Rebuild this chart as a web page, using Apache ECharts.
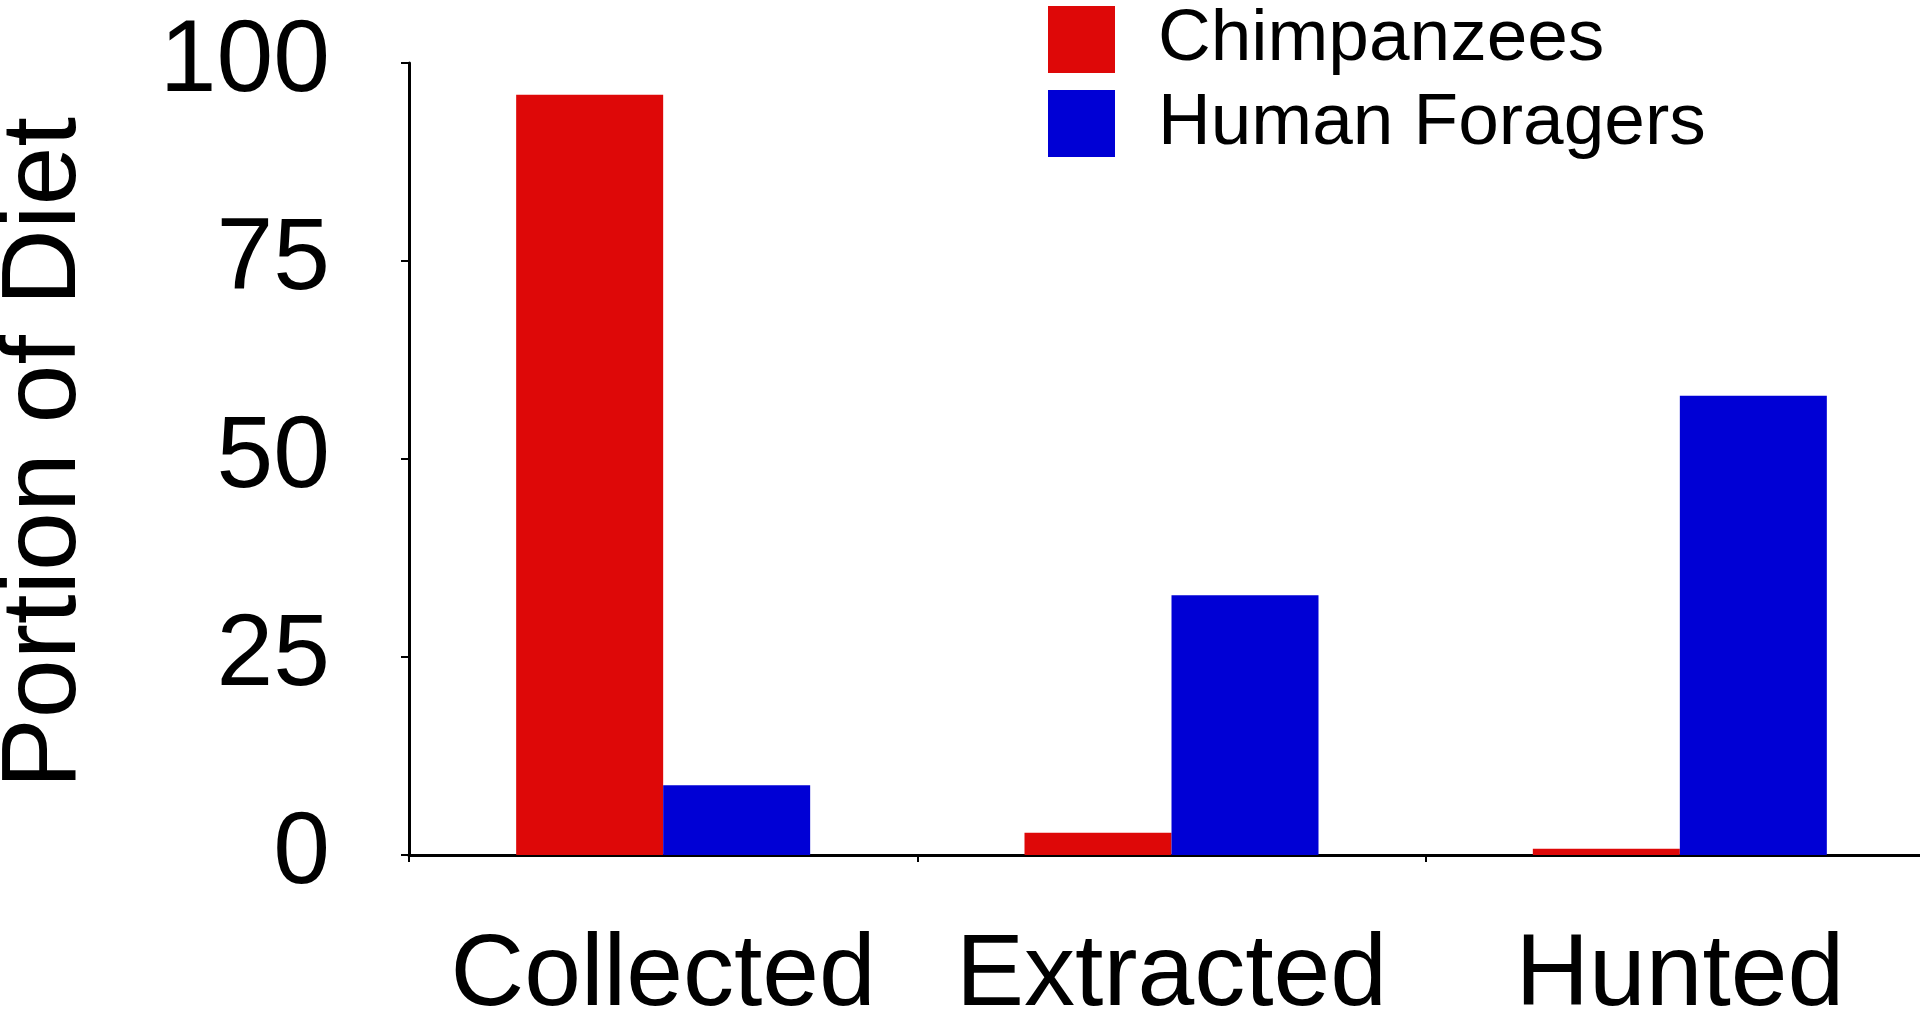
<!DOCTYPE html>
<html>
<head>
<meta charset="utf-8">
<script src="https://cdn.jsdelivr.net/npm/echarts@6/dist/echarts.min.js"></script>
<style>
html,body{margin:0;padding:0;background:#fff;}
#chart{width:1920px;height:1017px;}
</style>
</head>
<body>
<div id="chart"></div>
<script>
const categories = ['Collected', 'Extracted', 'Hunted'];
const chimpanzees = [96, 2.8, 0.8];
const humanForagers = [8.8, 32.8, 58];
const yTicks = [0, 25, 50, 75, 100];

const FONT = 'Liberation Sans';
const chart = echarts.init(document.getElementById('chart'));
chart.setOption({
  animation: false,
  backgroundColor: '#ffffff',
  grid: { left: 409, right: -14, top: 63, bottom: 162, containLabel: false, outerBoundsMode: 'none' },
  legend: {
    orient: 'vertical',
    left: 1048,
    top: 3,
    padding: 0,
    itemWidth: 67,
    itemHeight: 67,
    itemGap: 11,
    icon: 'rect',
    textStyle: { fontFamily: FONT, fontSize: 73, color: '#000', padding: [0, 0, 0, 38] },
    data: ['Chimpanzees', 'Human Foragers']
  },
  xAxis: {
    type: 'category',
    data: categories,
    axisLine: { lineStyle: { color: '#000', width: 3 } },
    axisTick: { show: true, length: 7, lineStyle: { color: '#000', width: 2 } },
    axisLabel: { fontFamily: FONT, fontSize: 102, color: '#000', margin: 71, interval: 0, hideOverlap: false }
  },
  yAxis: {
    type: 'value',
    min: yTicks[0],
    max: yTicks[yTicks.length - 1],
    interval: 25,
    name: 'Portion of Diet',
    nameLocation: 'middle',
    nameGap: 310,
    nameTextStyle: { fontFamily: FONT, fontSize: 106, color: '#000', padding: [0, 0, 0, 12] },
    splitLine: { show: false },
    axisLine: { show: true, lineStyle: { color: '#000', width: 3 } },
    axisTick: { show: true, length: 8, lineStyle: { color: '#000', width: 2 } },
    axisLabel: { fontFamily: FONT, fontSize: 102, color: '#000', margin: 79, padding: [12, 0, 0, 0] }
  },
  series: [
    { name: 'Chimpanzees', type: 'bar', data: chimpanzees, barWidth: 147, barGap: '0%', itemStyle: { color: '#de0808' } },
    { name: 'Human Foragers', type: 'bar', data: humanForagers, barWidth: 147, barGap: '0%', itemStyle: { color: '#0000d5' } }
  ]
});
</script>
</body>
</html>
